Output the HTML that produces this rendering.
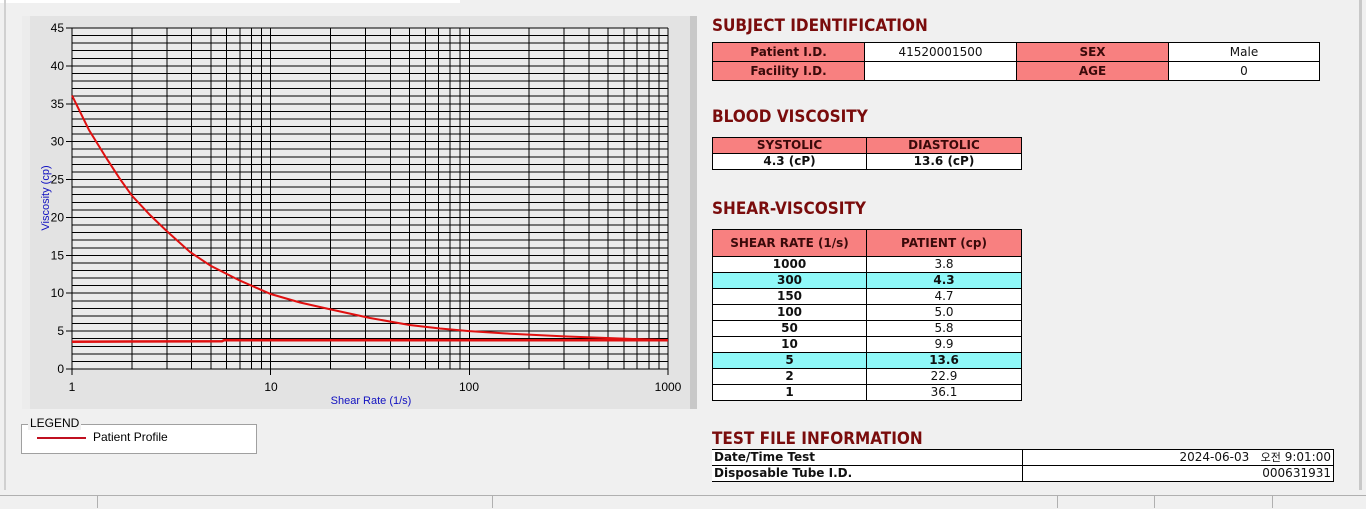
<!DOCTYPE html>
<html><head><meta charset="utf-8"><style>
body{margin:0;width:1366px;height:508px;background:#f0f0f0;position:relative;overflow:hidden;font-family:"Liberation Sans",sans-serif}
.abs{position:absolute}
h2{position:absolute;margin:0;font:bold 17px "DejaVu Sans Condensed","Liberation Sans",sans-serif;color:#7a0c0c;letter-spacing:0}
table{position:absolute;border-collapse:collapse;table-layout:fixed;font:12px "DejaVu Sans","Liberation Sans",sans-serif;color:#111}
tr{height:16px}
td{border:1px solid #000;padding:0;text-align:center;line-height:13px;overflow:hidden;white-space:nowrap}
.h{background:#f88080;font-weight:bold;color:#3a0a0a}
.w{background:#fff}
.c{background:#8ff8f8;font-weight:bold}
.b{font-weight:bold}
</style></head><body>
<div class="abs" style="left:0;top:0;width:460px;height:3px;background:#fff"></div>
<div class="abs" style="left:4px;top:0;width:2px;height:490px;background:#d0d0d0"></div>
<div class="abs" style="left:1359px;top:0;width:3px;height:490px;background:#c8c8c8"></div>
<svg class="abs" style="left:0;top:0" width="700" height="420" xmlns="http://www.w3.org/2000/svg">
<rect x="22" y="16" width="675" height="393" fill="#e3e3e3"/>
<rect x="22" y="16" width="8" height="393" fill="#ececec"/>
<rect x="690" y="16" width="7" height="393" fill="#c8c8c8"/>
<rect x="72" y="28" width="596" height="341" fill="#ebebeb"/>
<g stroke="#000" stroke-width="1" shape-rendering="crispEdges" id="g"></g>
<g font-size="12" font-family="Liberation Sans" fill="#000" text-anchor="end" id="yl"></g>
<g font-size="12" font-family="Liberation Sans" fill="#000" text-anchor="middle">
<text x="72" y="391">1</text><text x="271" y="391">10</text><text x="469" y="391">100</text><text x="668" y="391">1000</text></g>
<text x="371" y="404" font-size="11" fill="#1010c0" text-anchor="middle" font-family="Liberation Sans">Shear Rate (1/s)</text>
<text transform="translate(49,198) rotate(-90)" font-size="11" fill="#1010c0" text-anchor="middle" font-family="Liberation Sans">Viscosity (cp)</text>
<polyline fill="none" stroke="#e01010" stroke-width="2.5" points="72,341.7 222,341.2 224,340.2 668,340.2"/>
<polyline fill="none" stroke="#e01010" stroke-width="2" points="72,95.4 89,130 107,159.1 120,179 131.8,195.5 150,215 166.8,231.1 190,252 210.9,265.9 239.9,280.6 270.7,294 300,302.5 330.5,309.4 370,318 409.5,325 440,328.5 469.3,331.1 504.4,333.4 564.2,336.4 620,338.5 668,340.2"/>
</svg>
<script>
var g=document.getElementById('g'),s='';
for(var v=0;v<=45;v++){var y=(369-v*7.578).toFixed(1);s+='<line x1="72" x2="668" y1="'+y+'" y2="'+y+'"/>';}
for(var d=0;d<3;d++)for(var k=1;k<=10;k++){var x=(72+198.67*(d+Math.log10(k))).toFixed(1);s+='<line x1="'+x+'" x2="'+x+'" y1="28" y2="369"/>';}
for(var d=0;d<=3;d++){var x=(72+198.67*d).toFixed(1);s+='<line x1="'+x+'" x2="'+x+'" y1="369" y2="375"/>';}
var t='';
for(var v=0;v<=45;v+=5){var y=369-v*7.578;s+='<line x1="66" x2="72" y1="'+y.toFixed(1)+'" y2="'+y.toFixed(1)+'"/>';t+='<text x="64" y="'+(y+4).toFixed(1)+'">'+v+'</text>';}
g.innerHTML=s;document.getElementById('yl').innerHTML=t;
</script>
<div class="abs" style="left:21px;top:424px;width:234px;height:28px;background:#fff;border:1px solid #a0a0a0"></div>
<div class="abs" style="left:28px;top:416px;background:#f0f0f0;font-size:12px;padding:0 2px;line-height:14px">LEGEND</div>
<div class="abs" style="left:37px;top:437px;width:49px;height:2px;background:#c01020"></div>
<div class="abs" style="left:93px;top:430px;font-size:12px">Patient Profile</div>

<h2 style="left:712px;top:16px">SUBJECT IDENTIFICATION</h2>
<table style="left:712px;top:42px;width:608px">
<colgroup><col style="width:152px"><col style="width:152px"><col style="width:152px"><col></colgroup>
<tr style="height:19px"><td class="h">Patient I.D.</td><td class="w">41520001500</td><td class="h">SEX</td><td class="w">Male</td></tr>
<tr style="height:19px"><td class="h">Facility I.D.</td><td class="w"></td><td class="h">AGE</td><td class="w">0</td></tr></table>
<h2 style="left:712px;top:107px">BLOOD VISCOSITY</h2>
<table style="left:712px;top:137px;width:310px">
<colgroup><col style="width:154px"><col></colgroup>
<tr><td class="h">SYSTOLIC</td><td class="h">DIASTOLIC</td></tr>
<tr><td class="w b">4.3 (cP)</td><td class="w b">13.6 (cP)</td></tr></table>
<h2 style="left:712px;top:199px">SHEAR-VISCOSITY</h2>
<table style="left:712px;top:229px;width:310px">
<colgroup><col style="width:154px"><col></colgroup>
<tr style="height:27px"><td class="h">SHEAR RATE (1/s)</td><td class="h">PATIENT (cp)</td></tr>
<tr><td class="w b">1000</td><td class="w">3.8</td></tr>
<tr><td class="c">300</td><td class="c">4.3</td></tr>
<tr><td class="w b">150</td><td class="w">4.7</td></tr>
<tr><td class="w b">100</td><td class="w">5.0</td></tr>
<tr><td class="w b">50</td><td class="w">5.8</td></tr>
<tr><td class="w b">10</td><td class="w">9.9</td></tr>
<tr><td class="c">5</td><td class="c">13.6</td></tr>
<tr><td class="w b">2</td><td class="w">22.9</td></tr>
<tr><td class="w b">1</td><td class="w">36.1</td></tr></table>
<h2 style="left:712px;top:429px">TEST FILE INFORMATION</h2>
<table style="left:712px;top:449px;width:622px">
<colgroup><col style="width:310px"><col></colgroup>
<tr><td class="w b" style="text-align:left;padding-left:2px;border-left:none">Date/Time Test</td><td class="w" style="text-align:right;padding-right:2px">2024-06-03 &nbsp;&nbsp;<span style="font-family:'Noto Sans CJK KR',sans-serif;font-size:11px">오전</span> 9:01:00</td></tr>
<tr><td class="w b" style="text-align:left;padding-left:2px;border-left:none">Disposable Tube I.D.</td><td class="w" style="text-align:right;padding-right:2px">000631931</td></tr></table>

<div class="abs" style="left:0;top:495px;width:1366px;height:13px;background:#f0f0f0;border-top:1px solid #b0b0b0"></div>
<div class="abs" style="left:97px;top:496px;width:1px;height:12px;background:#b0b0b0"></div>
<div class="abs" style="left:492px;top:496px;width:1px;height:12px;background:#b0b0b0"></div>
<div class="abs" style="left:1057px;top:496px;width:1px;height:12px;background:#b0b0b0"></div>
<div class="abs" style="left:1154px;top:496px;width:1px;height:12px;background:#b0b0b0"></div>
<div class="abs" style="left:1272px;top:496px;width:1px;height:12px;background:#b0b0b0"></div>
</body></html>
